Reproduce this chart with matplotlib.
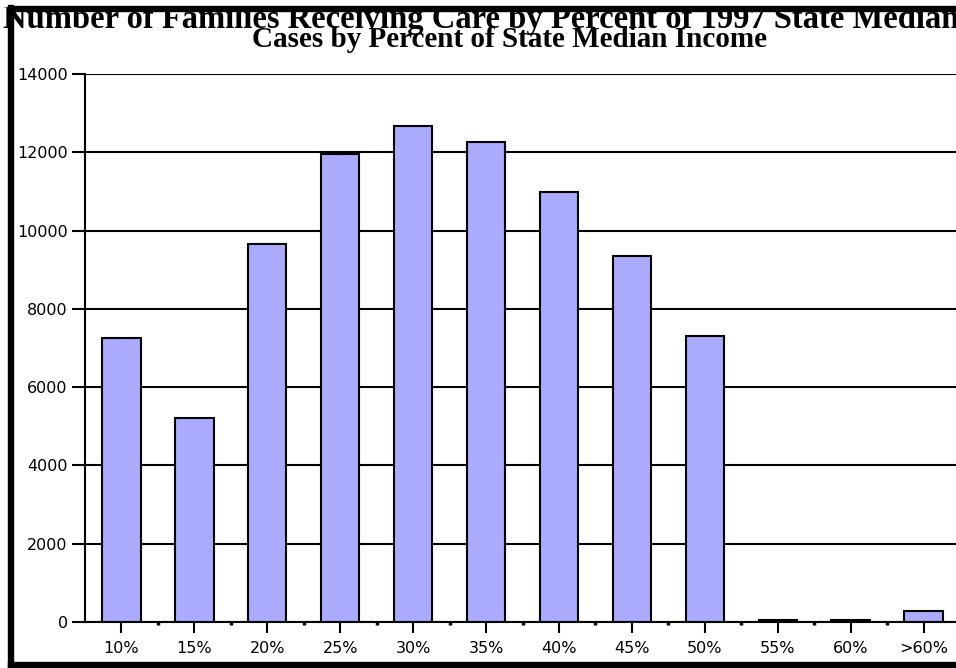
import matplotlib
matplotlib.use("Agg")
import matplotlib.pyplot as plt
import matplotlib.ticker as ticker
from matplotlib.patches import Rectangle

categories = ['10%', '15%', '20%', '25%', '30%', '35%', '40%', '45%', '50%', '55%', '60%', '>60%']
cases = [7250, 5200, 9650, 11950, 12670, 12250, 10980, 9350, 7300, 45, 45, 280]
y_ticks = [0, 2000, 4000, 6000, 8000, 10000, 12000, 14000]

plt.rcParams['font.family'] = ['DejaVu Sans']

fig = plt.figure(figsize=(9.56, 6.68), dpi=100)
ax = fig.add_axes([85 / 956, 46 / 668, 875 / 956, 548 / 668])

x = list(range(len(categories)))
ax.bar(x, cases, width=0.525, color='#aaaaff', edgecolor='black', linewidth=1.5, zorder=3)

ax.set_xlim(-0.5, len(categories) - 0.5)
ax.set_ylim(0, 14000)
ax.set_yticks(y_ticks)
ax.yaxis.set_major_formatter(ticker.FuncFormatter(lambda v, _: f"{int(v)}"))
ax.set_xticks(x)
ax.set_xticklabels(categories)
ax.set_xticks([i + 0.5 for i in x[:-1]], minor=True)

ax.grid(axis='y', color='black', linewidth=1.5)
ax.set_axisbelow(True)

for side in ['top', 'right']:
    ax.spines[side].set_visible(False)
ax.spines['left'].set_linewidth(1.5)
ax.spines['bottom'].set_linewidth(1.5)
ax.spines['bottom'].set_zorder(4)

ax.tick_params(axis='y', length=9.5, width=1.5, labelsize=11.5, pad=3)
ax.tick_params(axis='x', which='major', length=8, width=1.5, labelsize=11.5, pad=6)
ax.tick_params(axis='x', which='minor', length=2.5, width=2.5)

# titles (the first line runs off the right edge, as in the original)
title_font = dict(family=['Liberation Serif', 'DejaVu Serif'], fontweight='bold',
                  va='baseline', zorder=2)
fig.text(3 / 956, 1 - 28 / 668,
         'Number of Families Receiving Care by Percent of 1997 State Median Income',
         fontsize=23.5, ha='left', **title_font)
fig.text(509 / 956, 1 - 47 / 668, 'Cases by Percent of State Median Income',
         fontsize=21, ha='center', **title_font)

# outer frame, drawn over the first title line
frame = dict(transform=fig.transFigure, color='black', zorder=10)
fig.add_artist(Rectangle((8 / 956, 0), 5 / 956, 663 / 668, **frame))
fig.add_artist(Rectangle((8 / 956, 657 / 668), 948 / 956, 5 / 668, **frame))
fig.add_artist(Rectangle((8 / 956, 0), 948 / 956, 6 / 668, **frame))
fig.add_artist(Rectangle((0, 662 / 668), 1, 6 / 668, transform=fig.transFigure,
                         color='white', zorder=9))

fig.savefig('out.png', dpi=100)
